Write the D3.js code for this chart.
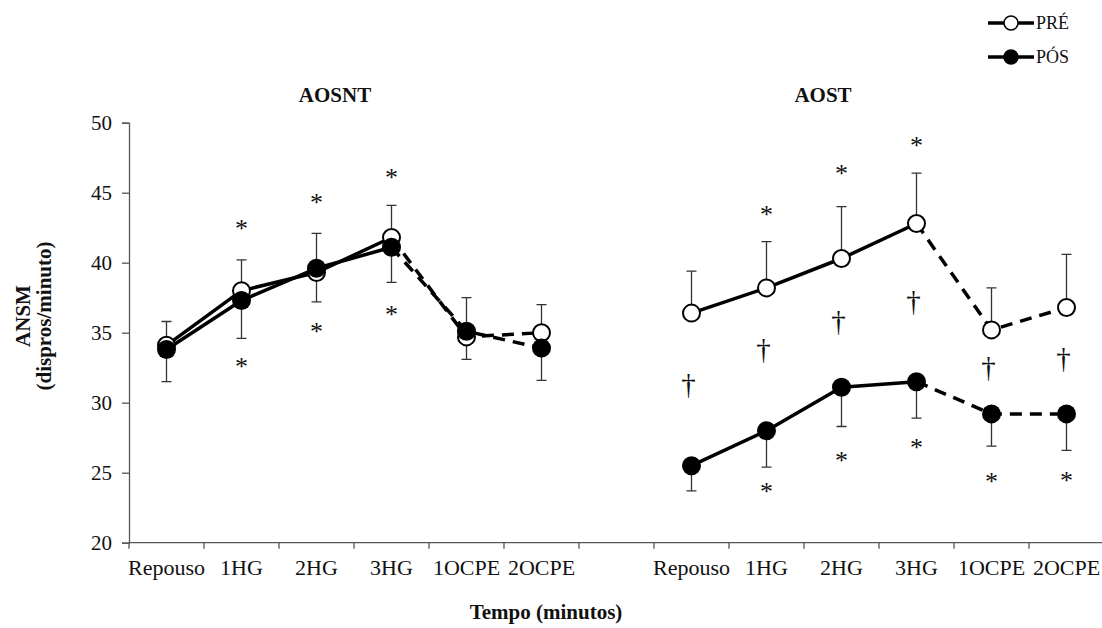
<!DOCTYPE html>
<html>
<head>
<meta charset="utf-8">
<script src="https://cdn.jsdelivr.net/npm/d3@7"></script>
<style>
  body { margin: 0; background: #fff; }
  text { font-family: "Liberation Serif", "Times New Roman", serif; fill: #111; }
</style>
</head>
<body>
<div id="vis"></div>
<script>
// ---------- DATA ----------
const categories = ["Repouso", "1HG", "2HG", "3HG", "1OCPE", "2OCPE"];
const groups = ["AOSNT", "AOST"];

// means (PRÉ = open, PÓS = filled)
const preAOSNT = [34.1, 38.0, 39.3, 41.8, 34.7, 35.0];
const posAOSNT = [33.8, 37.3, 39.6, 41.1, 35.1, 33.9];
const preAOST = [36.4, 38.2, 40.3, 42.8, 35.2, 36.8];
const posAOST = [25.5, 28.0, 31.1, 31.5, 29.2, 29.2];

// error bar ends (PRÉ upwards, PÓS downwards)
const preUpperAOSNT = [35.8, 40.2, 42.1, 44.1, 37.5, 37.0];
const posLowerAOSNT = [31.5, 34.6, 37.2, 38.6, 33.1, 31.6];
const preUpperAOST = [39.4, 41.5, 44.0, 46.4, 38.2, 40.6];
const posLowerAOST = [23.7, 25.4, 28.3, 28.9, 26.9, 26.6];

// significance marks (value where the mark sits, null = none)
const starTopAOSNT = [null, 42.8, 44.6, 46.4, null, null];
const starBotAOSNT = [null, 32.9, 35.4, 36.6, null, null];
const starTopAOST = [null, 43.8, 46.7, 48.7, null, null];
const starBotAOST = [null, 24.0, 26.2, 27.1, 24.7, 24.8];
const daggerAOST = [31.3, 33.8, 35.8, 37.2, 32.5, 33.1];

const yTicks = [20, 25, 30, 35, 40, 45, 50];

// ---------- FRAME ----------
const FRAME_WIDTH = 1102;
const FRAME_HEIGHT = 628;
const AXIS_X = 129;
const AXIS_Y = 542.7;
const TOP_Y = 122.7;

const svg = d3.select("#vis")
  .append("svg")
  .attr("width", FRAME_WIDTH)
  .attr("height", FRAME_HEIGHT);

// 13 slots: 6 + gap + 6
const slots = [];
categories.forEach((c, i) => slots.push("L" + i));
slots.push("gap");
categories.forEach((c, i) => slots.push("R" + i));

const x = d3.scaleBand().domain(slots).range([AXIS_X, AXIS_X + 75 * 13]);
const y = d3.scaleLinear().domain([20, 50]).range([AXIS_Y, TOP_Y]);

const AXIS_COLOR = "#555";

// y axis
const yAxis = svg.append("g")
  .attr("transform", `translate(${AXIS_X},0)`)
  .call(d3.axisLeft(y).tickValues(yTicks).tickSize(7).tickPadding(10));
yAxis.select(".domain").attr("stroke", AXIS_COLOR).attr("stroke-width", 1.3);
yAxis.selectAll(".tick line").attr("stroke", AXIS_COLOR).attr("stroke-width", 1.3);
yAxis.selectAll(".tick text")
  .attr("font-size", 21)
  .attr("font-family", "Liberation Serif")
  .attr("fill", "#222");

// x axis
svg.append("line")
  .attr("x1", AXIS_X).attr("x2", FRAME_WIDTH)
  .attr("y1", AXIS_Y).attr("y2", AXIS_Y)
  .attr("stroke", AXIS_COLOR).attr("stroke-width", 1.3);

svg.append("g").selectAll("line")
  .data(slots)
  .enter()
  .append("line")
  .attr("x1", d => x(d)).attr("x2", d => x(d))
  .attr("y1", AXIS_Y).attr("y2", AXIS_Y + 6)
  .attr("stroke", AXIS_COLOR).attr("stroke-width", 1.3);

svg.append("g").selectAll("text")
  .data(slots.filter(s => s !== "gap"))
  .enter()
  .append("text")
  .attr("x", d => x(d) + x.bandwidth() / 2)
  .attr("y", 575)
  .attr("text-anchor", "middle")
  .attr("font-size", 22)
  .attr("fill", "#222")
  .text(d => categories[+d.slice(1)]);

// axis titles
svg.append("text")
  .attr("x", 546).attr("y", 619)
  .attr("text-anchor", "middle")
  .attr("font-size", 21).attr("font-weight", "bold")
  .text("Tempo (minutos)");

svg.append("text")
  .attr("transform", "translate(30,316) rotate(-90)")
  .attr("text-anchor", "middle")
  .attr("font-size", 21).attr("font-weight", "bold")
  .text("ANSM");
svg.append("text")
  .attr("transform", "translate(51,316) rotate(-90)")
  .attr("text-anchor", "middle")
  .attr("font-size", 21).attr("font-weight", "bold")
  .text("(dispros/minuto)");

// panel titles
svg.append("text")
  .attr("x", 335).attr("y", 102)
  .attr("text-anchor", "middle")
  .attr("font-size", 21).attr("font-weight", "bold")
  .text(groups[0]);
svg.append("text")
  .attr("x", 823).attr("y", 102)
  .attr("text-anchor", "middle")
  .attr("font-size", 21).attr("font-weight", "bold")
  .text(groups[1]);

// ---------- PANELS ----------
const panels = [
  { prefix: "L", pre: preAOSNT, pos: posAOSNT, preUp: preUpperAOSNT, posLo: posLowerAOSNT,
    starTop: starTopAOSNT, starBot: starBotAOSNT, dagger: null },
  { prefix: "R", pre: preAOST, pos: posAOST, preUp: preUpperAOST, posLo: posLowerAOST,
    starTop: starTopAOST, starBot: starBotAOST, dagger: daggerAOST }
];

const cx = (p, i) => x(p.prefix + i) + x.bandwidth() / 2;
const CAP = 5;
const R = 8.5;

function drawErr(g, p, ends, means) {
  g.selectAll(null)
    .data(ends)
    .enter()
    .append("path")
    .attr("d", (d, i) => {
      const xx = cx(p, i);
      return `M${xx},${y(means[i])}V${y(d)}M${xx - CAP},${y(d)}H${xx + CAP}`;
    })
    .attr("fill", "none")
    .attr("stroke", "#333")
    .attr("stroke-width", 1.3);
}

function drawSeries(g, p, vals) {
  const line = d3.line().x(d => cx(p, d)).y(d => y(vals[d]));
  g.append("path")
    .attr("d", line([0, 1, 2, 3]))
    .attr("fill", "none").attr("stroke", "#000").attr("stroke-width", 3.5)
    .attr("stroke-linejoin", "round");
  g.append("path")
    .attr("d", line([3, 4, 5]))
    .attr("fill", "none").attr("stroke", "#000").attr("stroke-width", 3.5)
    .attr("stroke-dasharray", "12,8");
}

function drawMarks(g, p, vals, glyph, size, shift, dx) {
  g.selectAll(null)
    .data(vals.map((v, i) => ({ v, i })).filter(d => d.v !== null))
    .enter()
    .append("text")
    .attr("x", d => cx(p, d.i) + dx)
    .attr("y", d => y(d.v) + shift)
    .attr("text-anchor", "middle")
    .attr("font-size", size)
    .text(glyph);
}

panels.forEach(p => {
  const g = svg.append("g");
  drawErr(g, p, p.preUp, p.pre);
  drawErr(g, p, p.posLo, p.pos);
  drawSeries(g, p, p.pre);
  drawSeries(g, p, p.pos);

  g.selectAll(null).data(p.pre).enter().append("circle")
    .attr("cx", (d, i) => cx(p, i)).attr("cy", d => y(d)).attr("r", R)
    .attr("fill", "#fff").attr("stroke", "#000").attr("stroke-width", 2);
  g.selectAll(null).data(p.pos).enter().append("circle")
    .attr("cx", (d, i) => cx(p, i)).attr("cy", d => y(d)).attr("r", R + 1)
    .attr("fill", "#000");

  drawMarks(g, p, p.starTop, "*", 26, 13, 0);
  drawMarks(g, p, p.starBot, "*", 26, 13, 0);
  if (p.dagger) drawMarks(g, p, p.dagger, "†", 29, 9, -3);
});

// ---------- LEGEND ----------
const legend = svg.append("g");
[["PRÉ", "#fff"], ["PÓS", "#000"]].forEach((d, i) => {
  const ly = 23 + i * 34;
  legend.append("line")
    .attr("x1", 988).attr("x2", 1034).attr("y1", ly).attr("y2", ly)
    .attr("stroke", "#000").attr("stroke-width", 3.5);
  legend.append("circle")
    .attr("cx", 1011).attr("cy", ly).attr("r", 7)
    .attr("fill", d[1]).attr("stroke", "#000").attr("stroke-width", 1.5);
  legend.append("text")
    .attr("x", 1036).attr("y", ly + 6)
    .attr("font-size", 18)
    .text(d[0]);
});
</script>
</body>
</html>
